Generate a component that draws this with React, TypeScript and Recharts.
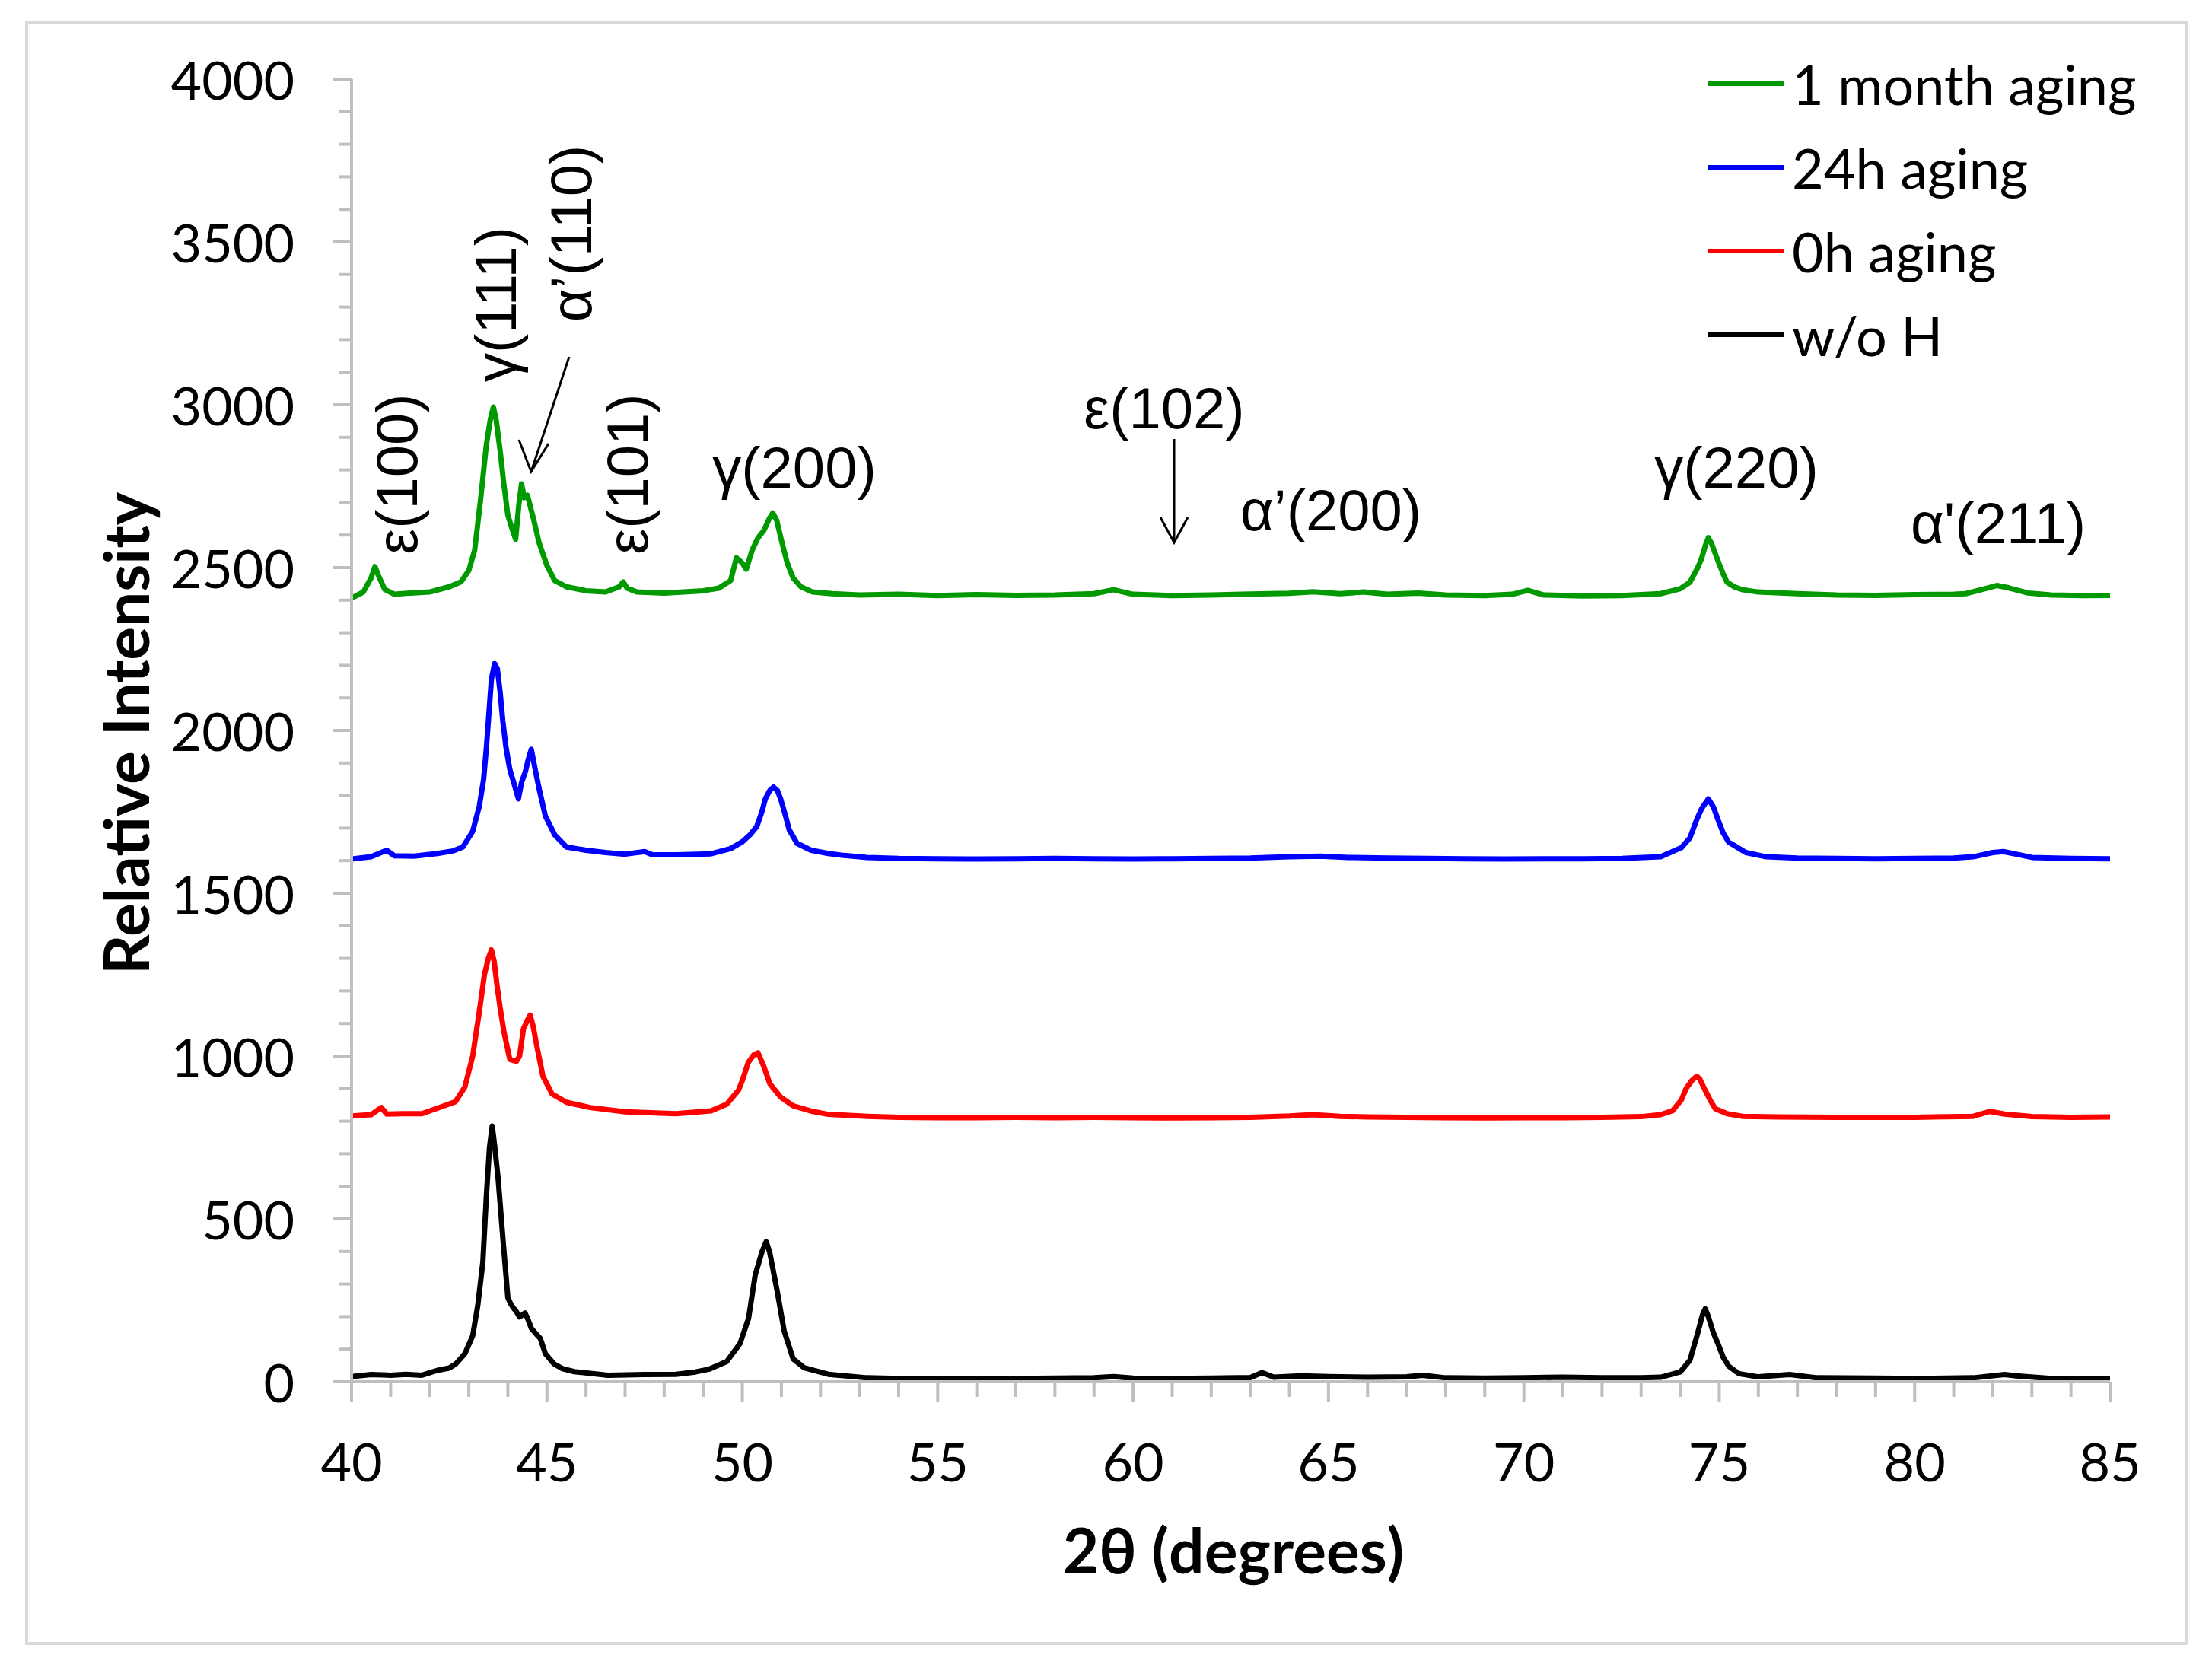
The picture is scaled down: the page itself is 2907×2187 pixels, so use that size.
import React from "react";
import { LineChart, Line, XAxis, YAxis, Legend } from "recharts";

type Pt = [number, number];

// 2θ (deg), relative intensity
const month1Aging: Pt[] = [
  [40.0, 2406], [40.3, 2425], [40.5, 2468], [40.6, 2503], [40.7, 2472], [40.85, 2433], [41.1, 2418],
  [41.5, 2422], [42.0, 2425], [42.5, 2441], [42.8, 2456], [43.0, 2491], [43.15, 2553], [43.3, 2707],
  [43.45, 2877], [43.55, 2954], [43.63, 2993], [43.7, 2954], [43.8, 2861], [43.9, 2753], [44.0, 2661],
  [44.1, 2622], [44.2, 2587], [44.28, 2692], [44.35, 2757], [44.42, 2715], [44.5, 2722], [44.65, 2653],
  [44.8, 2576], [45.0, 2506], [45.2, 2460], [45.5, 2441], [46.0, 2429], [46.5, 2425], [46.85, 2441],
  [46.95, 2456], [47.05, 2437], [47.3, 2425], [48.0, 2422], [48.5, 2425], [49.0, 2429], [49.4, 2437],
  [49.7, 2460], [49.85, 2530], [50.0, 2514], [50.1, 2495], [50.25, 2553], [50.4, 2591], [50.55, 2614],
  [50.7, 2653], [50.78, 2668], [50.88, 2645], [51.0, 2584], [51.15, 2514], [51.3, 2468], [51.5, 2441],
  [51.8, 2425], [52.3, 2420], [53.0, 2416], [54.0, 2418], [55.0, 2414], [56.0, 2417], [57.0, 2415],
  [58.0, 2416], [59.0, 2420], [59.5, 2432], [60.0, 2418], [61.0, 2414], [62.0, 2416], [63.0, 2419],
  [64.0, 2421], [64.6, 2426], [65.3, 2420], [65.9, 2425], [66.5, 2418], [67.3, 2422], [68.0, 2416],
  [69.0, 2414], [69.7, 2418], [70.1, 2430], [70.5, 2416], [71.5, 2413], [72.5, 2414], [73.5, 2420],
  [74.0, 2435], [74.25, 2455], [74.45, 2500], [74.55, 2529], [74.65, 2570], [74.72, 2592], [74.8, 2575],
  [74.94, 2529], [75.1, 2480], [75.2, 2455], [75.4, 2440], [75.6, 2432], [76.0, 2425], [77.0, 2420],
  [78.0, 2416], [79.0, 2415], [80.0, 2417], [81.0, 2418], [81.3, 2420], [81.7, 2432], [82.1, 2445],
  [82.4, 2438], [82.9, 2422], [83.5, 2416], [84.3, 2414], [85.0, 2415],
];

const h24Aging: Pt[] = [
  [40.0, 1605], [40.5, 1612], [40.9, 1632], [41.1, 1615], [41.6, 1614], [42.2, 1622], [42.6, 1630],
  [42.85, 1642], [43.1, 1690], [43.27, 1768], [43.38, 1850], [43.45, 1947], [43.52, 2060], [43.58, 2158],
  [43.66, 2205], [43.73, 2190], [43.8, 2120], [43.87, 2030], [43.95, 1950], [44.05, 1880], [44.15, 1840],
  [44.27, 1790], [44.35, 1840], [44.45, 1874], [44.52, 1910], [44.6, 1942], [44.7, 1880], [44.8, 1821],
  [44.96, 1737], [45.2, 1679], [45.5, 1642], [46.0, 1632], [46.5, 1625], [47.0, 1620], [47.5, 1628],
  [47.7, 1618], [48.3, 1618], [49.2, 1621], [49.7, 1637], [50.0, 1658], [50.2, 1680], [50.37, 1705],
  [50.5, 1750], [50.59, 1790], [50.7, 1815], [50.8, 1826], [50.9, 1815], [50.98, 1790], [51.1, 1740],
  [51.2, 1695], [51.4, 1653], [51.76, 1632], [52.2, 1622], [52.6, 1616], [53.2, 1610], [54.0, 1607],
  [55.0, 1606], [56.0, 1605], [57.0, 1606], [58.0, 1607], [59.0, 1606], [60.0, 1605], [61.0, 1606],
  [62.0, 1607], [63.0, 1608], [64.0, 1612], [64.8, 1614], [65.5, 1610], [66.5, 1608], [67.5, 1607],
  [68.5, 1606], [69.5, 1605], [70.5, 1606], [71.5, 1606], [72.5, 1607], [73.5, 1612], [74.03, 1640],
  [74.25, 1670], [74.42, 1725], [74.55, 1760], [74.72, 1790], [74.85, 1765], [74.98, 1722], [75.1, 1685],
  [75.24, 1657], [75.68, 1625], [76.2, 1612], [77.0, 1608], [78.0, 1607], [79.0, 1606], [80.0, 1607],
  [81.0, 1608], [81.5, 1612], [82.0, 1625], [82.27, 1628], [82.6, 1620], [83.0, 1610], [84.0, 1607],
  [85.0, 1606],
];

const h0Aging: Pt[] = [
  [40.0, 816], [40.5, 820], [40.76, 842], [40.9, 822], [41.3, 823], [41.8, 823], [42.2, 840], [42.66, 860],
  [42.9, 905], [43.1, 1000], [43.27, 1137], [43.4, 1250], [43.5, 1300], [43.58, 1326], [43.65, 1290],
  [43.72, 1220], [43.8, 1150], [43.9, 1074], [44.05, 990], [44.22, 984], [44.3, 1000], [44.4, 1084],
  [44.5, 1110], [44.57, 1126], [44.65, 1090], [44.74, 1032], [44.9, 937], [45.13, 884], [45.5, 858],
  [46.1, 842], [47.0, 829], [48.3, 823], [49.2, 832], [49.6, 852], [49.9, 895], [50.0, 925], [50.15, 980],
  [50.3, 1005], [50.4, 1010], [50.55, 968], [50.7, 916], [50.98, 874], [51.3, 847], [51.8, 830],
  [52.2, 821], [53.2, 815], [54.0, 812], [55.0, 811], [56.0, 811], [57.0, 812], [58.0, 811], [59.0, 812],
  [60.0, 811], [61.0, 810], [62.0, 811], [63.0, 812], [64.0, 816], [64.6, 820], [65.3, 815], [66.0, 813],
  [67.0, 812], [68.0, 811], [69.0, 810], [70.0, 811], [71.0, 811], [72.0, 812], [73.0, 814], [73.5, 820],
  [73.8, 832], [74.03, 865], [74.15, 900], [74.3, 925], [74.42, 938], [74.5, 930], [74.64, 895],
  [74.78, 862], [74.9, 838], [75.2, 823], [75.6, 815], [76.5, 813], [78.0, 812], [80.0, 812], [81.5, 815],
  [81.92, 830], [82.3, 822], [83.0, 814], [84.0, 812], [85.0, 813],
];

const withoutH: Pt[] = [
  [40.0, 16], [40.5, 22], [41.0, 20], [41.4, 23], [41.8, 20], [42.2, 35], [42.5, 42], [42.67, 55],
  [42.9, 86], [43.1, 141], [43.23, 234], [43.36, 367], [43.45, 570], [43.53, 719], [43.6, 785],
  [43.66, 727], [43.75, 625], [43.88, 430], [44.0, 258], [44.07, 240], [44.14, 227], [44.22, 215],
  [44.3, 199], [44.44, 211], [44.52, 190], [44.6, 164], [44.7, 150], [44.83, 133], [44.96, 86],
  [45.18, 55], [45.4, 40], [45.7, 31], [46.56, 20], [47.5, 22], [48.3, 23], [48.8, 30], [49.16, 39],
  [49.6, 62], [49.94, 117], [50.16, 195], [50.33, 328], [50.5, 398], [50.61, 430], [50.7, 398],
  [50.9, 273], [51.07, 156], [51.3, 70], [51.58, 43], [52.2, 23], [53.2, 12], [54.0, 10], [55.0, 10],
  [56.0, 9], [57.0, 10], [58.0, 11], [59.0, 12], [59.5, 16], [60.0, 11], [61.0, 10], [62.0, 11],
  [63.0, 13], [63.3, 28], [63.6, 14], [64.3, 18], [65.0, 16], [66.0, 14], [67.0, 15], [67.4, 20],
  [68.0, 12], [69.0, 11], [70.0, 12], [71.0, 14], [72.0, 12], [73.0, 12], [73.5, 14], [74.0, 30],
  [74.25, 66], [74.45, 150], [74.57, 205], [74.64, 224], [74.72, 200], [74.85, 150], [74.98, 113],
  [75.1, 75], [75.24, 48], [75.5, 25], [76.0, 15], [76.8, 22], [77.5, 12], [79.0, 11], [80.0, 10],
  [81.5, 12], [82.3, 22], [82.6, 18], [83.5, 10], [85.0, 8],
];

const xTicks = Array.from({ length: 46 }, (_, i) => 40 + i);
const yTicks = Array.from({ length: 41 }, (_, i) => i * 100);

const toRows = (pts: Pt[]) => pts.map(([x, y]) => ({ x, y }));

const AXIS = "#bfbfbf";
const TICK_FONT = "Lato, 'Noto Sans', sans-serif";
const NOTE_FONT = "'Liberation Sans', Arial, sans-serif";

const series = [
  { name: "1 month aging", color: "#009a00", pts: month1Aging },
  { name: "24h aging", color: "#0000ff", pts: h24Aging },
  { name: "0h aging", color: "#ff0000", pts: h0Aging },
  { name: "w/o H", color: "#000000", pts: withoutH },
];
const legendOrder = series.map((s) => s.name);

function YTick(props: any) {
  const { x, y, payload } = props;
  const major = payload.value % 500 === 0;
  return (
    <g>
      <line x1={x - (major ? 24 : 16)} x2={x} y1={y} y2={y} stroke={AXIS} strokeWidth={4} />
      {major && (
        <text x={x - 75} y={y} textAnchor="end" dominantBaseline="central" fontFamily={TICK_FONT} fontSize={70} fill="#000">
          {payload.value}
        </text>
      )}
    </g>
  );
}

function XTick(props: any) {
  const { x, y, payload } = props;
  const major = payload.value % 5 === 0;
  return (
    <g>
      <line x1={x} x2={x} y1={y} y2={y + (major ? 27 : 20)} stroke={AXIS} strokeWidth={4} />
      {major && (
        <text x={x} y={y + 104} textAnchor="middle" dominantBaseline="central" fontFamily={TICK_FONT} fontSize={70} fill="#000">
          {payload.value}
        </text>
      )}
    </g>
  );
}

function LegendBox(props: any) {
  const items = [...(props.payload || [])].sort(
    (a: any, b: any) => legendOrder.indexOf(a.value) - legendOrder.indexOf(b.value)
  );
  return (
    <div>
      {items.map((it: any) => (
        <div key={it.value} style={{ display: "flex", alignItems: "center", height: 110 }}>
          <div style={{ width: 100, height: 6, background: it.color, marginRight: 10 }} />
          <span style={{ fontFamily: TICK_FONT, fontSize: 72, color: "#000", lineHeight: 1 }}>{it.value}</span>
        </div>
      ))}
    </div>
  );
}

const notes = [
  { text: "γ(200)", x: 1044, y: 614 },
  { text: "ε(102)", x: 1530, y: 536 },
  { text: "α’(200)", x: 1749, y: 670 },
  { text: "γ(220)", x: 2282, y: 614 },
  { text: "α'(211)", x: 2626, y: 687 },
];
const rotNotes = [
  { text: "ε(100)", x: 521, y: 623 },
  { text: "γ(111)", x: 651, y: 400 },
  { text: "α’(110)", x: 750, y: 307 },
  { text: "ε(101)", x: 824, y: 623 },
];

export default function App() {
  return (
    <div style={{ position: "absolute", left: 0, top: 0, width: 2907, height: 2187, background: "#fff" }}>
      <div
        style={{
          position: "absolute",
          left: 33,
          top: 28,
          width: 2834,
          height: 2126,
          border: "4px solid #d9d9d9",
        }}
      />
      <div style={{ position: "absolute", left: 0, top: 0 }}>
        <LineChart width={2907} height={2187} margin={{ top: 104, right: 134, bottom: 311, left: 362 }}>
          <XAxis
            type="number"
            dataKey="x"
            domain={[40, 85]}
            ticks={xTicks}
            interval={0}
            height={60}
            tickSize={0}
            tickMargin={0}
            tickLine={false}
            axisLine={{ stroke: AXIS, strokeWidth: 4 }}
            tick={<XTick />}
            allowDataOverflow
          />
          <YAxis
            type="number"
            domain={[0, 4000]}
            ticks={yTicks}
            interval={0}
            width={100}
            tickSize={0}
            tickMargin={0}
            tickLine={false}
            axisLine={{ stroke: AXIS, strokeWidth: 4 }}
            tick={<YTick />}
            allowDataOverflow
          />
          <Legend
            layout="vertical"
            align="center"
            verticalAlign="middle"
            content={<LegendBox />}
            wrapperStyle={{ left: 2245, top: 55, width: 620, height: 450 }}
          />
          {series.map((s) => (
            <Line
              key={s.name}
              name={s.name}
              data={toRows(s.pts)}
              dataKey="y"
              type="linear"
              stroke={s.color}
              strokeWidth={7}
              strokeLinejoin="round"
              dot={false}
              activeDot={false}
              isAnimationActive={false}
            />
          ))}
        </LineChart>
      </div>
      <svg width={2907} height={2187} style={{ position: "absolute", left: 0, top: 0, pointerEvents: "none" }}>
        <text x={164} y={964} transform="rotate(-90 164 964)" textAnchor="middle" dominantBaseline="central"
          fontFamily={TICK_FONT} fontWeight={700} fontSize={82} fill="#000">
          Relative Intensity
        </text>
        <text x={1621} y={2036} textAnchor="middle" dominantBaseline="central"
          fontFamily={TICK_FONT} fontWeight={700} fontSize={82} fill="#000">
          2θ (degrees)
        </text>
        {notes.map((n) => (
          <text key={n.text} x={n.x} y={n.y} textAnchor="middle" dominantBaseline="central"
            fontFamily={NOTE_FONT} fontSize={76} fill="#000">
            {n.text}
          </text>
        ))}
        {rotNotes.map((n) => (
          <text key={n.text} x={n.x} y={n.y} transform={`rotate(-90 ${n.x} ${n.y})`} textAnchor="middle"
            dominantBaseline="central" fontFamily={NOTE_FONT} fontSize={76} fill="#000">
            {n.text}
          </text>
        ))}
        <g stroke="#000" strokeWidth={3} fill="none">
          <line x1={748} y1={469} x2={698} y2={620} />
          <polyline points="682,578 698,620 721,583" />
          <line x1={1543} y1={577} x2={1543} y2={713} />
          <polyline points="1525,680 1543,713 1561,680" />
        </g>
      </svg>
    </div>
  );
}
